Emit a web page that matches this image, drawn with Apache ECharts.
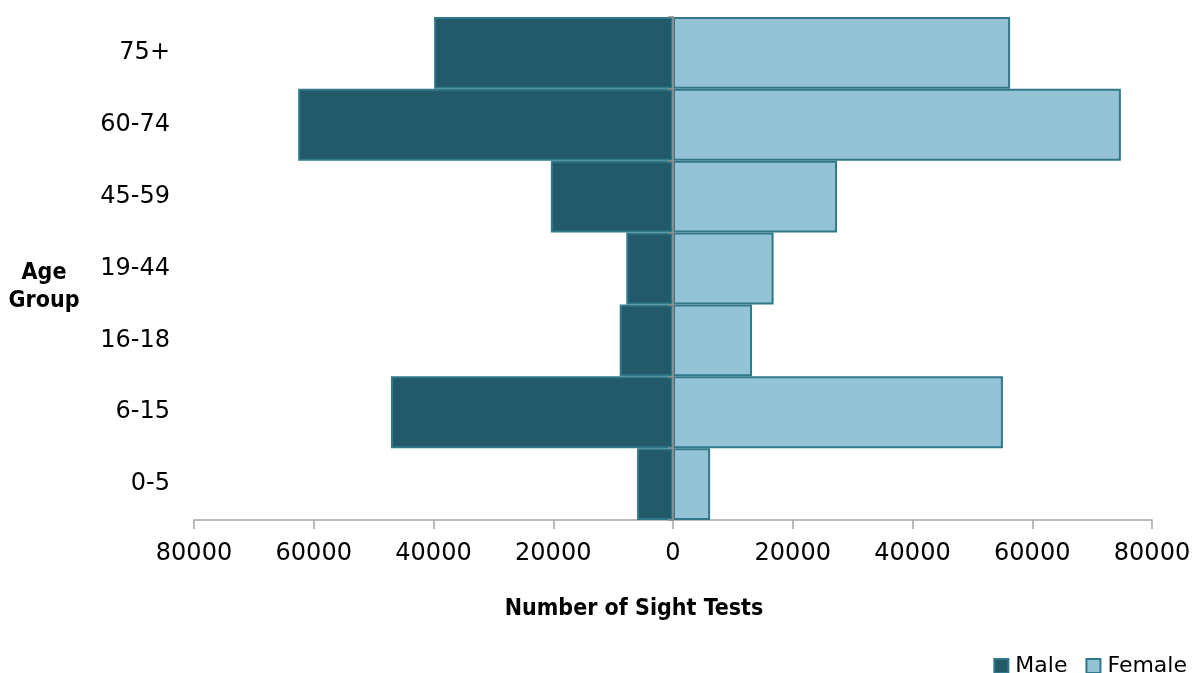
<!DOCTYPE html>
<html>
<head>
<meta charset="utf-8">
<script src="https://cdn.jsdelivr.net/npm/echarts@6/dist/echarts.min.js"></script>
<style>html,body{margin:0;padding:0;background:#fff}#c{width:1198px;height:673px}</style>
</head>
<body>
<div id="c"></div>
<script>
const categories = ['0-5', '6-15', '16-18', '19-44', '45-59', '60-74', '75+'];
const maleValues = [6000, 47100, 8900, 7800, 20400, 62600, 39900];
const femaleValues = [6200, 55100, 13200, 16800, 27400, 74800, 56300];
const xTicks = [-80000, -60000, -40000, -20000, 0, 20000, 40000, 60000, 80000];

const FONT = 'DejaVu Sans';
const TITLE_FONT = '"DejaVu Sans Condensed", "DejaVu Sans"';
const GRID_LEFT = 194;
const chart = echarts.init(document.getElementById('c'), null, {renderer: 'canvas'});
const option = {
  animation: false,
  backgroundColor: '#ffffff',
  textStyle: {fontFamily: FONT},
  grid: {left: GRID_LEFT, right: 46, top: 17, bottom: 153, containLabel: false},
  legend: {
    data: ['Male', 'Female'],
    right: 6, top: 650,
    itemWidth: 14, itemHeight: 14, itemGap: 18,
    icon: 'rect',
    textStyle: {fontFamily: FONT, fontSize: 22, color: '#000', padding: [0, 0, 0, 2]}
  },
  xAxis: {
    type: 'value', min: xTicks[0], max: xTicks[xTicks.length - 1], interval: 20000,
    axisLine: {show: true, onZero: false, lineStyle: {color: '#a6a6a6', width: 1.5}},
    axisTick: {show: true, length: 9, lineStyle: {color: '#a6a6a6', width: 1.5}},
    splitLine: {show: false},
    axisLabel: {fontFamily: FONT, fontSize: 24, color: '#000', margin: 22, formatter: v => String(Math.abs(v))}
  },
  yAxis: [{
    type: 'category', data: categories,
    axisLine: {show: false, onZero: false}, axisTick: {show: false},
    axisLabel: {fontFamily: FONT, fontSize: 24, color: '#000', margin: 24}
  }, {
    type: 'category', data: categories, position: 'left', offset: 0,
    axisLine: {show: true, onZero: false, lineStyle: {color: '#8c8c8c', width: 2}},
    axisTick: {show: true, length: 5, lineStyle: {color: '#8c8c8c', width: 1.5}},
    axisLabel: {show: false},
    z: 5
  }],
  series: [{
    name: 'Male', type: 'bar', stack: 'pop', yAxisIndex: 0, barWidth: '100%',
    data: maleValues.map(v => -v),
    itemStyle: {color: '#225a69', borderColor: '#31798a', borderWidth: 2}
  }, {
    name: 'Female', type: 'bar', stack: 'pop', yAxisIndex: 0, barWidth: '100%',
    data: femaleValues,
    itemStyle: {color: '#93c3d4', borderColor: '#31798a', borderWidth: 2}
  }],
  graphic: [{
    type: 'text', x: 44, y: 287,
    style: {text: 'Age\nGroup', font: 'bold 23px ' + TITLE_FONT, fill: '#000', align: 'center', verticalAlign: 'middle', lineHeight: 28}
  }, {
    type: 'text', x: 634, y: 609,
    style: {text: 'Number of Sight Tests', font: 'bold 23px ' + TITLE_FONT, fill: '#000', align: 'center', verticalAlign: 'middle'}
  }]
};
chart.setOption(option);
// place the centre axis line at value 0 using the library's own scale
const zeroPx = chart.convertToPixel({xAxisIndex: 0}, 0);
chart.setOption({yAxis: [{}, {offset: GRID_LEFT - zeroPx}]});
</script>
</body>
</html>
